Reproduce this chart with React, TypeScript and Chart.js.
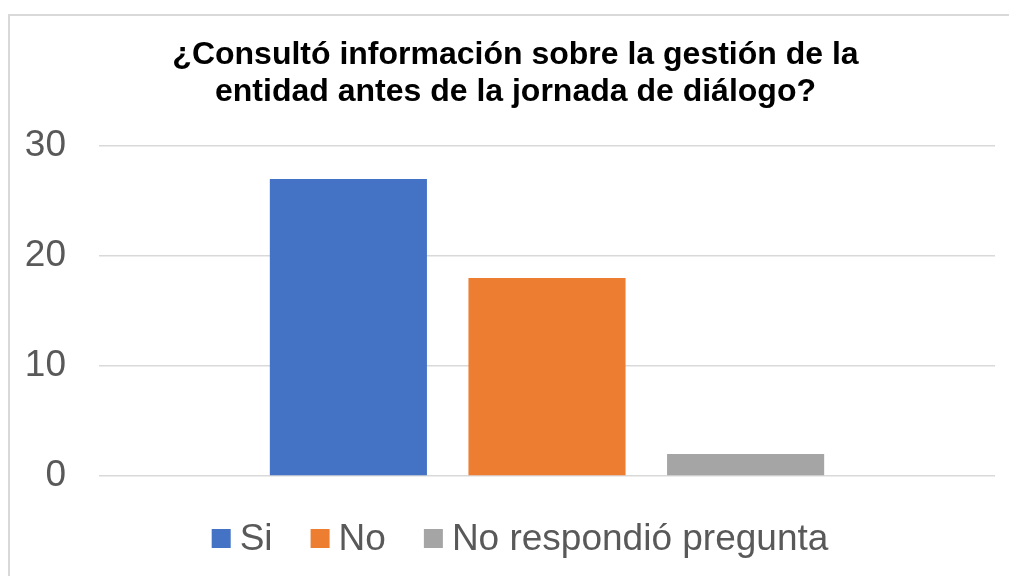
import React, { useEffect, useRef } from "react";
import { Chart, registerables } from "chart.js";

Chart.register(...registerables);

const categories: string[] = [""];
const seriesNames: string[] = ["Si", "No", "No respondió pregunta"];
const siValues: number[] = [27];
const noValues: number[] = [18];
const noRespValues: number[] = [2];
const seriesColors: string[] = ["#4472C4", "#ED7D31", "#A5A5A5"];
const titleLines: string[] = [
  "¿Consultó información sobre la gestión de la",
  "entidad antes de la jornada de diálogo?",
];
const yMin = 0;
const yMax = 30;
const yStep = 10;

const FONT = "'Liberation Sans', Arial, sans-serif";

const frame = {
  id: "frame",
  beforeDraw(chart: any) {
    const ctx = chart.ctx;
    ctx.save();
    ctx.fillStyle = "#ffffff";
    ctx.fillRect(0, 0, chart.width, chart.height);
    ctx.strokeStyle = "#D9D9D9";
    ctx.lineWidth = 2;
    ctx.beginPath();
    ctx.moveTo(9, chart.height);
    ctx.lineTo(9, 15);
    ctx.lineTo(chart.width, 15);
    ctx.stroke();
    ctx.restore();
  },
};

const customLegend = {
  id: "customLegend",
  afterDraw(chart: any) {
    const ctx = chart.ctx;
    const box = 19;
    const gapText = 9;
    const gapItem = 38;
    ctx.save();
    ctx.font = `37px ${FONT}`;
    const items = chart.data.datasets.map((ds: any) => ({
      label: ds.label,
      color: ds.backgroundColor,
      w: ctx.measureText(ds.label).width,
    }));
    const total =
      items.reduce((s: number, it: any) => s + box + gapText + it.w, 0) +
      gapItem * (items.length - 1);
    let x = 520 - total / 2;
    const boxTop = 529;
    const baseline = 550;
    ctx.textBaseline = "alphabetic";
    ctx.textAlign = "left";
    for (const it of items) {
      ctx.fillStyle = it.color;
      ctx.fillRect(x, boxTop, box, box);
      x += box + gapText;
      ctx.fillStyle = "#595959";
      ctx.fillText(it.label, x, baseline);
      x += it.w + gapItem;
    }
    ctx.restore();
  },
};

export default function App() {
  const ref = useRef<HTMLCanvasElement | null>(null);

  useEffect(() => {
    if (!ref.current) return;
    const values = [siValues, noValues, noRespValues];
    const chart = new Chart(ref.current, {
      type: "bar",
      data: {
        labels: categories,
        datasets: seriesNames.map((name, i) => ({
          label: name,
          data: values[i],
          backgroundColor: seriesColors[i],
          borderWidth: 0,
          barPercentage: 0.791,
          categoryPercentage: 0.665,
        })),
      },
      options: {
        animation: false,
        responsive: false,
        devicePixelRatio: 1,
        layout: { padding: { left: 8, right: 0, top: 0, bottom: 100 } },
        plugins: {
          legend: { display: false },
          tooltip: { enabled: false },
          title: {
            display: true,
            text: titleLines,
            color: "#000000",
            font: { family: FONT, size: 32, weight: "bold", lineHeight: "37px" },
            padding: { top: 36.5, bottom: 35.5 },
          },
        },
        scales: {
          x: { display: false },
          y: {
            min: yMin,
            max: yMax,
            position: "left",
            border: { display: false },
            grid: { color: "#D9D9D9", lineWidth: 1.5, drawTicks: false },
            ticks: {
              stepSize: yStep,
              padding: 33,
              color: "#595959",
              font: { family: FONT, size: 37 },
            },
            afterFit: (scale: any) => {
              scale.width = 91;
            },
          },
          y2: {
            position: "right",
            display: true,
            border: { display: false },
            grid: { display: false, drawTicks: false },
            ticks: { display: false },
            afterFit: (scale: any) => {
              scale.width = 28;
            },
          },
        },
      },
      plugins: [frame, customLegend],
    });
    return () => chart.destroy();
  }, []);

  return (
    <div
      style={{
        position: "fixed",
        left: 0,
        top: 0,
        width: 1009,
        height: 576,
        overflow: "hidden",
        background: "#fff",
      }}
    >
      <canvas ref={ref} width={1023} height={576} style={{ width: 1023, height: 576, display: "block" }} />
    </div>
  );
}
